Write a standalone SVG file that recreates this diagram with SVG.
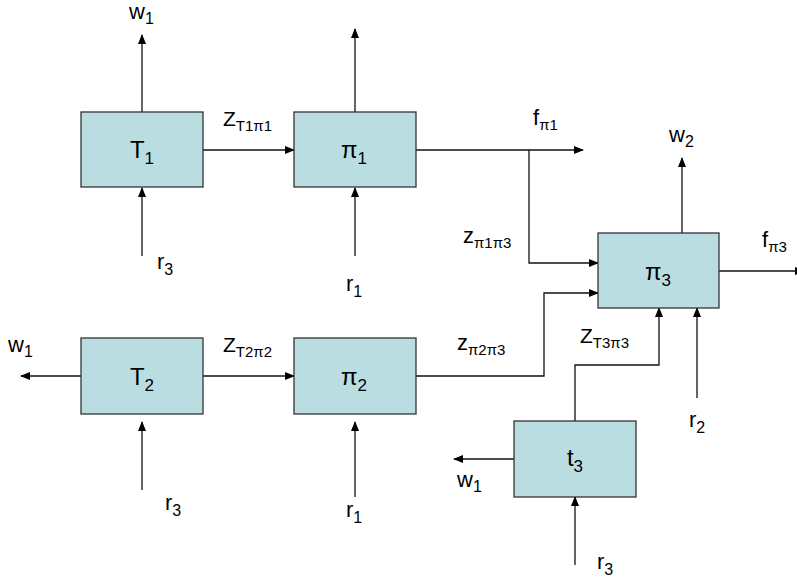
<svg xmlns="http://www.w3.org/2000/svg" width="797" height="578" viewBox="0 0 797 578">
<defs>
<marker id="ah" markerWidth="10" markerHeight="8" refX="9" refY="4" orient="auto" markerUnits="userSpaceOnUse">
<path d="M0,0 L10,4 L0,8 Z" fill="#000"/>
</marker>
<style>
.box{fill:#B9DDE0;stroke:#333;stroke-width:1.3}
.c{fill:none;stroke:#111;stroke-width:1.3;marker-end:url(#ah)}
text{font-family:"Liberation Sans",Arial,sans-serif;fill:#000}
.bl{font-size:24px}
.lb{font-size:22px}
.zl{font-size:21px}
.s{font-size:16px}
.zs{font-size:15px}
.bs{font-size:17px}
</style>
</defs>
<rect width="797" height="578" fill="#fff"/>
<g id="connectors">
<path class="c" d="M142,112 V35"/>
<path class="c" d="M355,112 V29"/>
<path class="c" d="M203,150 H294"/>
<path class="c" d="M142,256 V188"/>
<path class="c" d="M355,256 V188"/>
<path class="c" d="M416,150 H583"/>
<path class="c" d="M529,150 V263 H598"/>
<path class="c" d="M682,233 V158"/>
<path class="c" d="M719,271 H804"/>
<path class="c" d="M81,376 H21"/>
<path class="c" d="M203,376 H294"/>
<path class="c" d="M142,490 V422"/>
<path class="c" d="M355,497 V422"/>
<path class="c" d="M416,376 H544 V293 H598"/>
<path class="c" d="M575,421 V365 H659 V308"/>
<path class="c" d="M697,398 V308"/>
<path class="c" d="M514,459 H454"/>
<path class="c" d="M575,565 V497"/>
</g>
<g id="T1"><rect class="box" x="81" y="112" width="122" height="75"/><text class="bl" x="142" y="158" text-anchor="middle">T<tspan class="bs" dy="6">1</tspan></text></g>
<g id="pi1"><rect class="box" x="294" y="112" width="122" height="75"/><text class="bl" x="354" y="158" text-anchor="middle">π<tspan class="bs" dy="6">1</tspan></text></g>
<g id="T2"><rect class="box" x="81" y="338" width="122" height="76"/><text class="bl" x="142" y="385" text-anchor="middle">T<tspan class="bs" dy="6">2</tspan></text></g>
<g id="pi2"><rect class="box" x="294" y="338" width="122" height="76"/><text class="bl" x="354" y="385" text-anchor="middle">π<tspan class="bs" dy="6">2</tspan></text></g>
<g id="pi3"><rect class="box" x="598" y="233" width="121" height="75"/><text class="bl" x="658" y="280" text-anchor="middle">π<tspan class="bs" dy="6">3</tspan></text></g>
<g id="t3"><rect class="box" x="514" y="421" width="122" height="76"/><text class="bl" x="575" y="466" text-anchor="middle">t<tspan class="bs" dy="6">3</tspan></text></g>
<g id="labels">
<text class="lb" x="129" y="19">w<tspan class="s" dy="5">1</tspan></text>
<text class="zl" x="223" y="126">Z<tspan class="zs" dy="5">T1π1</tspan></text>
<text class="lb" x="533" y="125">f<tspan class="zs" dy="5">π1</tspan></text>
<text class="lb" x="669" y="142">w<tspan class="s" dy="5">2</tspan></text>
<text class="lb" x="762" y="247">f<tspan class="zs" dy="5">π3</tspan></text>
<text class="lb" x="463" y="243">z<tspan class="zs" dy="5">π1π3</tspan></text>
<text class="lb" x="157" y="269">r<tspan class="s" dy="6">3</tspan></text>
<text class="lb" x="346" y="291">r<tspan class="s" dy="6">1</tspan></text>
<text class="lb" x="8" y="352">w<tspan class="s" dy="5">1</tspan></text>
<text class="zl" x="223" y="352">Z<tspan class="zs" dy="5">T2π2</tspan></text>
<text class="lb" x="457" y="350">z<tspan class="zs" dy="5">π2π3</tspan></text>
<text class="zl" x="580" y="343">Z<tspan class="zs" dy="5">T3π3</tspan></text>
<text class="lb" x="689" y="427">r<tspan class="s" dy="6">2</tspan></text>
<text class="lb" x="165" y="510">r<tspan class="s" dy="6">3</tspan></text>
<text class="lb" x="346" y="517">r<tspan class="s" dy="6">1</tspan></text>
<text class="lb" x="457" y="487">w<tspan class="s" dy="5">1</tspan></text>
<text class="lb" x="597" y="569">r<tspan class="s" dy="6">3</tspan></text>
</g>
</svg>
